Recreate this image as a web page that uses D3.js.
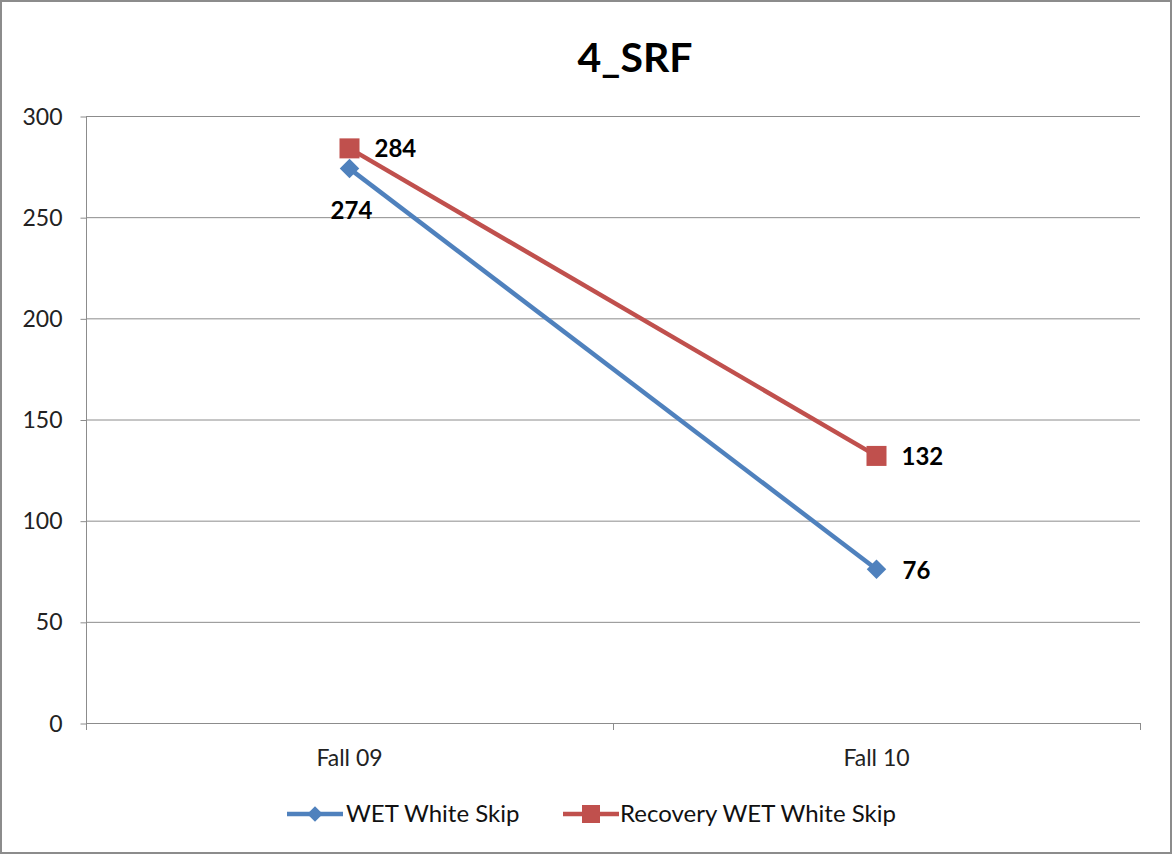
<!DOCTYPE html>
<html><head><meta charset="utf-8">
<script src="https://cdn.jsdelivr.net/npm/d3@7"></script>
<style>body{margin:0;background:#fff}svg{display:block}text{font-family:Lato,"Open Sans",sans-serif}</style>
</head><body>
<svg id="c" width="1173" height="855"></svg>
<script>
const title = "4_SRF";
const categories = ["Fall 09", "Fall 10"];
const seriesNames = ["WET White Skip", "Recovery WET White Skip"];
const wetWhiteSkip = [274, 76];
const recoveryWetWhiteSkip = [284, 132];
const yTicks = [0, 50, 100, 150, 200, 250, 300];

(function(){
const svg = d3.select("#c");
svg.append("rect").attr("x",1).attr("y",1).attr("width",1170).attr("height",852)
  .attr("fill","#fff").attr("stroke","#8c8c8c").attr("stroke-width",2);

const pL=86, pR=1140, pT=116, pB=723;
const x = d3.scaleBand().domain(categories).range([pL,pR]);
const y = d3.scaleLinear().domain([0,300]).range([pB,pT]);

// gridlines
svg.append("g").selectAll("line").data(yTicks).join("line")
  .attr("x1",pL).attr("x2",pR).attr("y1",d=>y(d)+0.5).attr("y2",d=>y(d)+0.5)
  .attr("stroke","#8c8c8c").attr("stroke-width",1);

// y axis
const ya = svg.append("g").attr("transform",`translate(${pL+0.5},0)`)
  .call(d3.axisLeft(y).tickValues(yTicks).tickSize(6).tickPadding(18));
ya.select(".domain").attr("stroke","#8c8c8c").attr("d",`M0,${pT}V${pB}`);
ya.selectAll(".tick line").attr("stroke","#8c8c8c").attr("transform","translate(0,0.5)");
ya.selectAll(".tick text").attr("font-size",23).attr("fill","#222").attr("dy","0.35em")
  .style("font-family","Lato,'Open Sans',sans-serif");

// x axis
const xa = svg.append("g").attr("transform",`translate(0,${pB+0.5})`)
  .call(d3.axisBottom(x).tickSize(0).tickPadding(26));
xa.select(".domain").attr("stroke","#8c8c8c").attr("d",`M${pL},0H${pR}`);
xa.selectAll(".tick text").attr("font-size",23).attr("fill","#222")
  .style("font-family","Lato,'Open Sans',sans-serif");
const bounds = [pL, pL + x.step(), pR];
svg.append("g").selectAll("line").data(bounds).join("line")
  .attr("x1",d=>d+0.5).attr("x2",d=>d+0.5).attr("y1",pB).attr("y2",pB+7)
  .attr("stroke","#8c8c8c");

// title
svg.append("text").attr("x",635).attr("y",72).attr("text-anchor","middle")
  .attr("font-size",41).attr("font-weight","bold").attr("fill","#000").text(title);

const cx = c => x(c) + x.bandwidth()/2;
const colors = ["#4F81BD", "#C0504D"];
const data = [wetWhiteSkip, recoveryWetWhiteSkip];
const line = d3.line().x((d,i)=>cx(categories[i])).y(d=>y(d));

function marker(g, s, px, py){
  if(s===0){
    g.append("path").attr("d",d3.symbol().type(d3.symbolSquare).size(190)())
      .attr("transform",`translate(${px},${py}) rotate(45)`).attr("fill",colors[0]);
  } else {
    g.append("rect").attr("x",px-10).attr("y",py-10).attr("width",20).attr("height",20)
      .attr("fill",colors[1]);
  }
}

data.forEach((vals,s)=>{
  svg.append("path").datum(vals).attr("d",line).attr("fill","none")
    .attr("stroke",colors[s]).attr("stroke-width",4.5);
});
data.forEach((vals,s)=>{
  const g = svg.append("g");
  vals.forEach((v,i)=>marker(g,s,cx(categories[i]),y(v)));
});

// data labels
const lbl = svg.append("g").attr("font-size",24).attr("font-weight","bold").attr("fill","#000");
lbl.append("text").attr("x",cx(categories[0])+2).attr("y",y(wetWhiteSkip[0])+50)
  .attr("text-anchor","middle").text(wetWhiteSkip[0]);
lbl.append("text").attr("x",cx(categories[1])+26).attr("y",y(wetWhiteSkip[1])+10).text(wetWhiteSkip[1]);
recoveryWetWhiteSkip.forEach((v,i)=>{
  lbl.append("text").attr("x",cx(categories[i])+25).attr("y",y(v)+9).text(v);
});

// legend
const leg = svg.append("g");
const legItems = [{x0:287, tx:346}, {x0:563, tx:620}];
legItems.forEach((it,s)=>{
  leg.append("line").attr("x1",it.x0).attr("x2",it.x0+56).attr("y1",814).attr("y2",814)
    .attr("stroke",colors[s]).attr("stroke-width",4.5);
  if(s===0){
    leg.append("path").attr("d",d3.symbol().type(d3.symbolSquare).size(120)())
      .attr("transform",`translate(${it.x0+28},814) rotate(45)`).attr("fill",colors[0]);
  } else {
    leg.append("rect").attr("x",it.x0+28-9).attr("y",805).attr("width",18).attr("height",18).attr("fill",colors[1]);
  }
  leg.append("text").attr("x",it.tx).attr("y",822).attr("font-size",24).attr("fill","#111").text(seriesNames[s]);
});
})();
</script>
</body></html>
